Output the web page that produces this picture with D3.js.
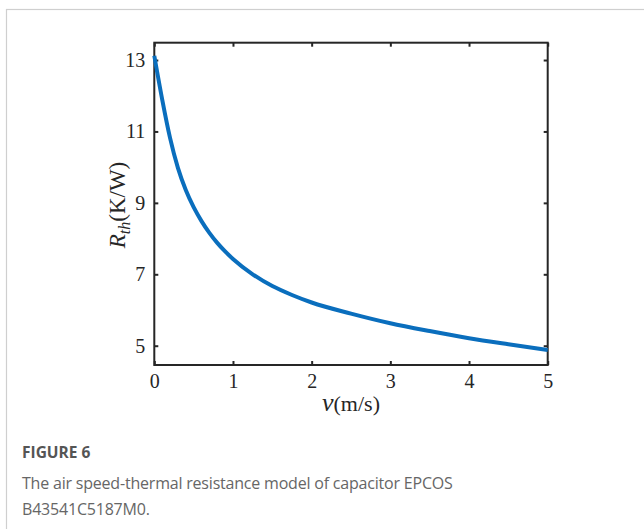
<!DOCTYPE html>
<html>
<head>
<meta charset="utf-8">
<script src="https://cdn.jsdelivr.net/npm/d3@7"></script>
<style>
  body { margin: 0; background: #fff; }
</style>
</head>
<body>
<svg id="chart" width="644" height="529"></svg>
<script>
// air speed (m/s) and thermal resistance (K/W)
const speed = [0, 0.1, 0.2, 0.3, 0.4, 0.5, 0.6, 0.7, 0.8, 0.9, 1.0, 1.25, 1.5, 1.75, 2.0, 2.5, 3.0, 3.5, 4.0, 4.5, 5.0]
const rth = [13.12, 11.9, 10.82, 9.98, 9.36, 8.88, 8.49, 8.16, 7.88, 7.64, 7.43, 7.0, 6.67, 6.42, 6.21, 5.9, 5.63, 5.41, 5.21, 5.04, 4.88]
const xTicks = [0, 1, 2, 3, 4, 5]
const yTicks = [5, 7, 9, 11, 13]
const captionLines = ['The air speed-thermal resistance model of capacitor EPCOS', 'B43541C5187M0.']

const SERIF = 'Liberation Serif, Times New Roman, serif'
const AXIS_COL = '#262626'
const LINE_COL = '#0a6ebd'

const svg = d3.select('#chart')

// carte grise autour de la figure
svg.append('rect').attr('x', 6.5).attr('y', 9.5).attr('width', 700).attr('height', 600)
    .attr('fill', 'none').attr('stroke', '#cfcfcf').attr('stroke-width', 1.2)

const PLOT_L = 154.3, PLOT_R = 547.7, PLOT_T = 42.7, PLOT_B = 365
const x = d3.scaleLinear().domain([0, 5]).range([PLOT_L, PLOT_R])
const y = d3.scaleLinear().domain([4.46, 13.485]).range([PLOT_B, PLOT_T])

const g = svg.append('g')

// axes with inward ticks (bottom/left labelled, top/right mirrored)
function styleAxis(sel) {
    sel.select('.domain').remove()
    sel.selectAll('.tick line').attr('stroke', AXIS_COL).attr('stroke-width', 2)
    sel.selectAll('.tick text').attr('fill', AXIS_COL).style('font-family', SERIF).style('font-size', '20px')
}
g.append('g').attr('transform', 'translate(0,' + PLOT_B + ')')
    .call(d3.axisBottom(x).tickValues(xTicks).tickFormat(d3.format('d')).tickSizeInner(-4).tickSizeOuter(0).tickPadding(9))
    .call(styleAxis)
g.append('g').attr('transform', 'translate(0,' + PLOT_T + ')')
    .call(d3.axisTop(x).tickValues(xTicks).tickFormat('').tickSizeInner(-4).tickSizeOuter(0))
    .call(styleAxis)
g.append('g').attr('transform', 'translate(' + PLOT_L + ',0)')
    .call(d3.axisLeft(y).tickValues(yTicks).tickFormat(d3.format('d')).tickSizeInner(-4).tickSizeOuter(0).tickPadding(9))
    .call(styleAxis)
g.append('g').attr('transform', 'translate(' + PLOT_R + ',0)')
    .call(d3.axisRight(y).tickValues(yTicks).tickFormat('').tickSizeInner(-4).tickSizeOuter(0))
    .call(styleAxis)

// plot box
g.append('rect').attr('x', PLOT_L).attr('y', PLOT_T).attr('width', PLOT_R - PLOT_L).attr('height', PLOT_B - PLOT_T)
    .attr('fill', 'none').attr('stroke', AXIS_COL).attr('stroke-width', 2)

// curve
const pts = speed.map((v, i) => [v, rth[i]])
g.append('path').datum(pts)
    .attr('fill', 'none').attr('stroke', LINE_COL).attr('stroke-width', 4)
    .attr('d', d3.line().x(d => x(d[0])).y(d => y(d[1])).curve(d3.curveMonotoneX))

// x label
const xl = svg.append('text').attr('x', 351).attr('y', 411).attr('text-anchor', 'middle')
    .style('font-family', SERIF).style('font-size', '22px').attr('fill', AXIS_COL)
xl.append('tspan').text('v').style('font-style', 'italic').style('font-size', '26px')
xl.append('tspan').text('(m/s)')

// y label
const yl = svg.append('text').attr('transform', 'translate(125,205) rotate(-90)').attr('text-anchor', 'middle')
    .style('font-family', SERIF).style('font-size', '23px').attr('fill', AXIS_COL)
yl.append('tspan').text('R').style('font-style', 'italic')
yl.append('tspan').text('th').style('font-style', 'italic').style('font-size', '16px').attr('dy', 5)
yl.append('tspan').text('(K/W)').attr('dy', -5)

// caption
svg.append('text').attr('x', 22).attr('y', 458).text('FIGURE 6')
    .style('font-family', 'Open Sans, sans-serif').style('font-size', '15.5px').style('font-weight', 'bold').attr('fill', '#555')
captionLines.forEach((t, i) => {
    svg.append('text').attr('x', 22).attr('y', 489 + i * 26).text(t)
        .style('font-family', 'Open Sans, sans-serif').style('font-size', '16px').style('letter-spacing', '-0.2px').attr('fill', '#666')
})
</script>
</body>
</html>
